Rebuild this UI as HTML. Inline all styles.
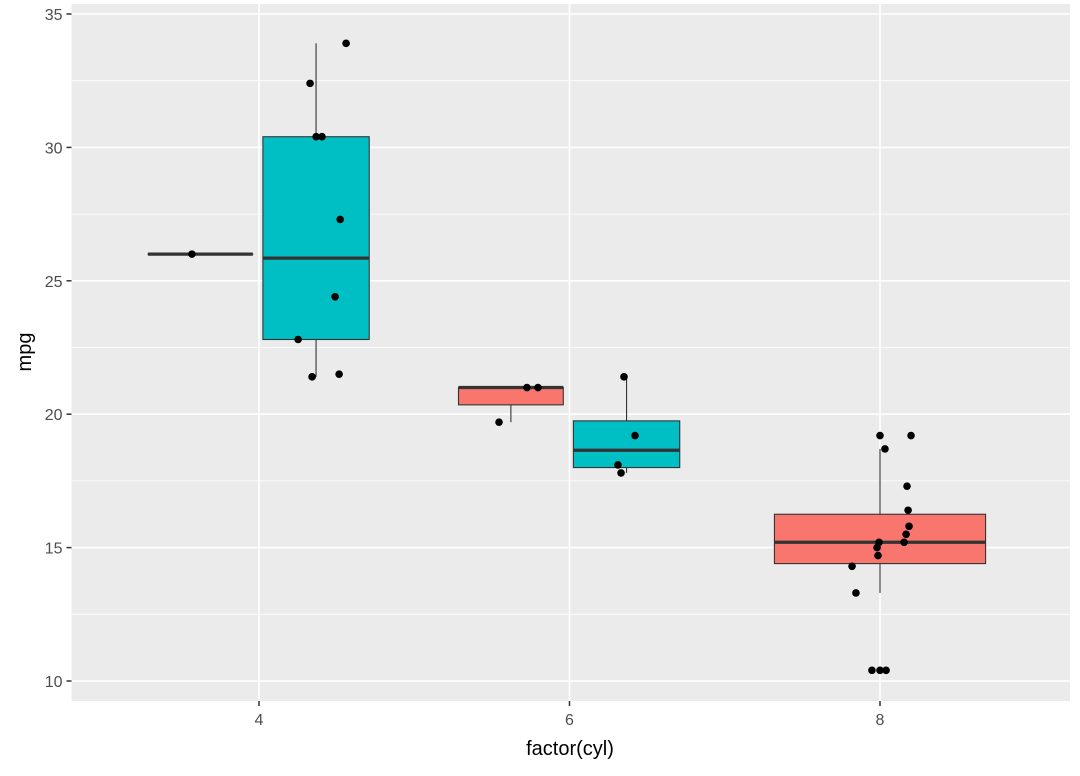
<!DOCTYPE html>
<html><head><meta charset="utf-8"><style>
body{margin:0;background:#fff}
svg text{font-family:"Liberation Sans",sans-serif}
</style></head><body>
<svg id="chart" width="1080" height="771" viewBox="0 0 1080 771" xmlns="http://www.w3.org/2000/svg">
<rect x="71.5" y="4" width="998.5" height="697" fill="#ebebeb"/>
<g id="grid"></g><g id="boxes"></g><g id="pts"></g><g id="axes"></g>
<text x="570" y="755" font-size="20" text-anchor="middle" fill="#000">factor(cyl)</text>
<text transform="translate(31,352) rotate(-90)" font-size="20" text-anchor="middle" fill="#000">mpg</text>
</svg>
<script>
const categories=[4,6,8];
const yTicks=[10,15,20,25,30,35];
const boxCat=[4,4,6,6,8];
const boxSide=[-1,1,-1,1,-1];
const boxQ1=[26,22.8,20.35,18.0,14.4];
const boxMed=[26,25.85,21.0,18.65,15.2];
const boxQ3=[26,30.4,21.0,19.75,16.25];
const boxLo=[26,21.4,19.7,17.8,13.3];
const boxHi=[26,33.9,21.0,21.4,18.7];
const boxFill=["#F8766D","#00BFC4","#F8766D","#00BFC4","#F8766D"];
const boxWide=[false,false,false,false,true];
const ptX=[3.568,4.329,4.561,4.368,4.406,4.523,4.490,4.252,4.342,4.516,
5.546,5.726,5.797,6.351,6.422,6.312,6.332,
8.000,8.200,8.032,8.174,8.181,8.187,8.168,8.155,7.994,7.981,7.987,7.820,7.845,7.948,8.000,8.039];
const ptY=[26,32.4,33.9,30.4,30.4,27.3,24.4,22.8,21.4,21.5,
19.7,21.0,21.0,21.4,19.2,18.1,17.8,
19.2,19.2,18.7,17.3,16.4,15.8,15.5,15.2,15.2,15.0,14.7,14.3,13.3,10.4,10.4,10.4];
const NS="http://www.w3.org/2000/svg";
const X=v=>259+(v-4)*155.25;
const Y=v=>681-(v-10)*26.68;
function mk(p,t,a){const e=document.createElementNS(NS,t);for(const k in a)e.setAttribute(k,a[k]);document.getElementById(p).appendChild(e);return e;}
const L=71.5,R=1070,T=4,B=701;
yTicks.forEach((v,i)=>{
 if(i<yTicks.length-1){const m=mk('grid','line',{x1:L,x2:R,y1:Y(v+2.5),y2:Y(v+2.5),stroke:'#fff','stroke-width':0.8});
 }
 const g=mk('grid','line',{x1:L,x2:R,y1:Y(v),y2:Y(v),stroke:'#fff','stroke-width':1.6});
 
 const t=mk('axes','line',{x1:L-5,x2:L,y1:Y(v),y2:Y(v),stroke:'#333','stroke-width':1.5});
 
 const tx=mk('axes','text',{x:L-9,y:Y(v)+6,'font-size':16,'text-anchor':'end',fill:'#4d4d4d'});tx.textContent=v;
 
});
categories.forEach(c=>{
 const g=mk('grid','line',{x1:X(c),x2:X(c),y1:T,y2:B,stroke:'#fff','stroke-width':1.6});
 
 const t=mk('axes','line',{x1:X(c),x2:X(c),y1:B,y2:B+5,stroke:'#333','stroke-width':1.5});
 
 const tx=mk('axes','text',{x:X(c),y:B+24,'font-size':16,'text-anchor':'middle',fill:'#4d4d4d'});tx.textContent=c;
 
});
boxCat.forEach((c,i)=>{
 let x0,x1;
 if(boxWide[i]){x0=X(c)-0.68*155.25;x1=X(c)+0.68*155.25;}
 else if(boxSide[i]<0){x0=X(c)-0.715*155.25;x1=X(c)-0.04*155.25;}
 else {x0=X(c)+0.025*155.25;x1=X(c)+0.71*155.25;}
 const cx=(x0+x1)/2;
 const w1=mk('boxes','line',{x1:cx,x2:cx,y1:Y(boxHi[i]),y2:Y(boxQ3[i]),stroke:'#333','stroke-width':1.1});
 
 const w2=mk('boxes','line',{x1:cx,x2:cx,y1:Y(boxQ1[i]),y2:Y(boxLo[i]),stroke:'#333','stroke-width':1.1});
 
 const r=mk('boxes','rect',{x:x0,y:Y(boxQ3[i]),width:x1-x0,height:Math.max(0.01,Y(boxQ1[i])-Y(boxQ3[i])),fill:boxFill[i],stroke:'#333','stroke-width':1.1});
 
 const m=mk('boxes','line',{x1:x0,x2:x1,y1:Y(boxMed[i]),y2:Y(boxMed[i]),stroke:'#333','stroke-width':3.2});
 
});
ptX.forEach((v,i)=>{
 const p=mk('pts','circle',{cx:X(v),cy:Y(ptY[i]),r:3.8,fill:'#000'});
 
});
</script>
</body></html>
